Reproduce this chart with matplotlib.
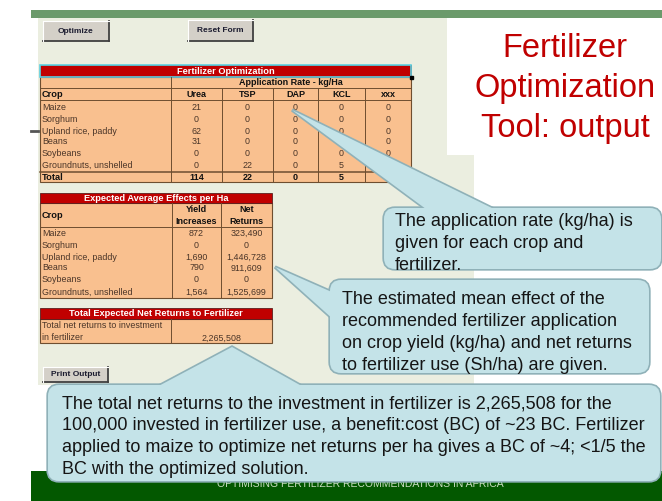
import matplotlib
matplotlib.use('Agg')
import matplotlib.pyplot as plt
from matplotlib.patches import Rectangle, Polygon, FancyBboxPatch

# ---- data shown on the slide ----
crops = ['Maize', 'Sorghum', 'Upland rice, paddy', 'Beans', 'Soybeans',
         'Groundnuts, unshelled']
fertilizers = ['Urea', 'TSP', 'DAP', 'KCL', 'xxx']
urea = [21, 0, 62, 31, 0, 0]
tsp = [0, 0, 0, 0, 0, 22]
dap = [0, 0, 0, 0, 0, 0]
kcl = [0, 0, 0, 0, 0, 5]
xxx = [0, 0, 0, 0, 0, 0]
yield_increase = [872, 0, 1690, 790, 0, 1564]
net_returns = [323490, 0, 1446728, 911609, 0, 1525699]
total_returns = 2265508

title_lines = ['Fertilizer', 'Optimization', 'Tool: output']
note_rate = ['The application rate (kg/ha) is', 'given for each crop and', 'fertilizer.']
note_effect = ['The estimated mean effect of the', 'recommended fertilizer application',
               'on crop yield (kg/ha) and net returns', 'to fertilizer use (Sh/ha) are given.']
note_total = ['The total net returns to the investment in fertilizer is 2,265,508 for the',
              '100,000 invested in fertilizer use, a benefit:cost (BC) of ~23 BC. Fertilizer',
              'applied to maize to optimize net returns per ha gives a BC of ~4; <1/5 the',
              'BC with the optimized solution.']
footer = 'OPTIMISING FERTILIZER RECOMMENDATIONS IN AFRICA'

plt.rcParams['font.family'] = ['Liberation Sans', 'DejaVu Sans']

RED = '#c00000'
PEACH = '#f9c08f'
GRID = '#6e4e30'
CELLTXT = '#4a3528'
BEIGE = '#ebeee0'
BLUE = '#c4e3e8'
BLUE_EDGE = '#8fb1b8'

fig = plt.figure(figsize=(6.62, 5.01), dpi=100)
ax = fig.add_axes([0, 0, 1, 1])
ax.set_xlim(0, 662)
ax.set_ylim(501, 0)
ax.axis('off')

# slide frame
ax.add_patch(Rectangle((31, 10), 631, 7.5, color='#6b9a6b', lw=0))
ax.add_patch(Rectangle((38, 17.5), 436, 367.5, color=BEIGE, lw=0))
ax.add_patch(Rectangle((447, 17.5), 215, 137.5, color='white', lw=0))
ax.add_patch(Rectangle((31, 471), 631, 30, color='#035800', lw=0))
ax.text(360, 484, footer, ha='center', va='center', fontsize=7.5, color='#c8dcc0')
ax.plot([31, 38], [131, 131], color='#555555', lw=2)

for i, t in enumerate(title_lines):
    ax.text(565, 48 + 40 * i, t, ha='center', va='center', fontsize=23.5, color=RED)


def button(x0, y0, x1, y1, label):
    ax.add_patch(Rectangle((x0, y0), x1 - x0, y1 - y0, facecolor='#d4d0c8',
                           edgecolor='none'))
    ax.plot([x0, x1], [y1, y1], color='#404040', lw=1.3)
    ax.plot([x1, x1], [y0, y1], color='#404040', lw=1.3)
    ax.plot([x0, x1], [y0, y0], color='white', lw=0.8)
    ax.plot([x0, x0], [y0, y1], color='white', lw=0.8)
    ax.text((x0 + x1) / 2, (y0 + y1) / 2, label, ha='center', va='center',
            fontsize=6, fontweight='bold', color='#1c1c30')


button(43, 21, 109, 41, 'Optimize')
button(188, 20, 253, 41, 'Reset Form')
button(43, 367, 108, 382, 'Print Output')


def red_header(x0, x1, y0, y1, label):
    ax.add_patch(Rectangle((x0, y0), x1 - x0, y1 - y0, facecolor=RED,
                           edgecolor='#5a2020', lw=0.6))
    ax.text((x0 + x1) / 2, (y0 + y1) / 2 + 0.5, label, ha='center', va='center',
            fontsize=6.7, fontweight='bold', color='white')


def hline(x0, x1, y, lw=0.7):
    ax.plot([x0, x1], [y, y], color=GRID, lw=lw)


def vline(x, y0, y1, lw=0.7):
    ax.plot([x, x], [y0, y1], color=GRID, lw=lw)


# ---- table 1: fertilizer optimization ----
col_edges = [40, 171, 222, 273, 318, 365, 411]
row_y = [107, 119, 131, 141, 153, 165]
ax.add_patch(Rectangle((40, 77), 371, 105, facecolor=PEACH, edgecolor=GRID, lw=0.8))
red_header(40, 411, 65, 77, 'Fertilizer Optimization')
ax.add_patch(Rectangle((40, 65), 371, 12, facecolor='none', edgecolor='#5fd0e0', lw=1.2))
ax.add_patch(Rectangle((409.5, 75.5), 3, 3, color='black'))
hline(40, 411, 88)
hline(40, 411, 100)
hline(40, 411, 171.5, lw=1.1)
vline(171, 77, 182)
for x in col_edges[2:-1]:
    vline(x, 88, 182)
ax.text(291, 82.5, 'Application Rate - kg/Ha', ha='center', va='center',
        fontsize=6.5, fontweight='bold', color='#111111')
ax.text(42, 94, 'Crop', ha='left', va='center', fontsize=6.7, fontweight='bold',
        color='#111111')
centers = [(col_edges[i + 1] + col_edges[i + 2]) / 2 for i in range(5)]
for name, cx in zip(fertilizers, centers):
    ax.text(cx, 94.5, name, ha='center', va='center', fontsize=6.5,
            fontweight='bold', color='#111111')
rates = [urea, tsp, dap, kcl, xxx]
for r, (crop, y) in enumerate(zip(crops, row_y)):
    ax.text(42, y, crop, ha='left', va='center', fontsize=6.4, color=CELLTXT)
    for vals, cx in zip(rates, centers):
        ax.text(cx, y, str(vals[r]), ha='center', va='center', fontsize=6.4,
                color=CELLTXT)
ax.text(42, 177, 'Total', ha='left', va='center', fontsize=6.7, fontweight='bold',
        color='#111111')
for vals, cx in zip(rates, centers):
    ax.text(cx, 177, str(sum(vals)), ha='center', va='center', fontsize=6.5,
            fontweight='bold', color='#111111')

# ---- table 2: expected average effects ----
row_y2 = [233, 245, 257, 268, 280, 292]
ax.add_patch(Rectangle((40, 203), 232, 95, facecolor=PEACH, edgecolor=GRID, lw=0.8))
red_header(40, 272, 193, 203, 'Expected Average Effects per Ha')
hline(40, 272, 227)
vline(172, 203, 298)
vline(221, 203, 298)
ax.text(42, 215, 'Crop', ha='left', va='center', fontsize=6.7, fontweight='bold',
        color='#111111')
for cx, l1, l2 in [(196.5, 'Yield', 'Increases'), (246.5, 'Net', 'Returns')]:
    ax.text(cx, 209, l1, ha='center', va='center', fontsize=6.5, fontweight='bold',
            color='#111111')
    ax.text(cx, 221, l2, ha='center', va='center', fontsize=6.5, fontweight='bold',
            color='#111111')
for crop, y, yi, nr in zip(crops, row_y2, yield_increase, net_returns):
    ax.text(42, y, crop, ha='left', va='center', fontsize=6.4, color=CELLTXT)
    ax.text(196.5, y, f'{yi:,}', ha='center', va='center', fontsize=6.4, color=CELLTXT)
    ax.text(246.5, y, f'{nr:,}', ha='center', va='center', fontsize=6.4, color=CELLTXT)

# ---- table 3: total returns ----
ax.add_patch(Rectangle((40, 319), 232, 24, facecolor=PEACH, edgecolor=GRID, lw=0.8))
red_header(40, 272, 308, 319, 'Total Expected Net Returns to Fertilizer')
vline(171, 319, 343)
ax.text(42, 326, 'Total net returns to investment', ha='left', va='center',
        fontsize=6.4, color=CELLTXT)
ax.text(42, 338, 'in fertilizer', ha='left', va='center', fontsize=6.4, color=CELLTXT)
ax.text(221.5, 338, f'{total_returns:,}', ha='center', va='center', fontsize=6.4,
        color=CELLTXT)


# ---- callouts ----
def callout(x0, y0, x1, y1, wedge, lines, tx, ty, z):
    for lw, ec, zz in [(2.4, BLUE_EDGE, z), (0, 'none', z + 0.1)]:
        ax.add_patch(FancyBboxPatch((x0, y0), x1 - x0, y1 - y0,
                                    boxstyle='round,pad=0,rounding_size=11',
                                    facecolor=BLUE, edgecolor=ec, lw=lw, zorder=zz))
        ax.add_patch(Polygon(wedge, closed=True, facecolor=BLUE, edgecolor=ec,
                             lw=lw, joinstyle='miter', zorder=zz))
    for i, line in enumerate(lines):
        ax.text(tx, ty + 22 * i, line, ha='left', va='center_baseline', fontsize=13,
                color='#151515', zorder=z + 0.2)


callout(384, 208, 661, 269, [(430, 212), (292, 110), (500, 212)],
        note_rate, 395, 220, 10)
callout(330, 280, 649, 373, [(334, 293), (275, 267), (334, 320)],
        note_effect, 342, 297, 11)
callout(48, 385, 660, 481, [(153, 389), (232, 347), (307, 389)],
        note_total, 62, 402, 12)

plt.savefig('out.png', dpi=100)
